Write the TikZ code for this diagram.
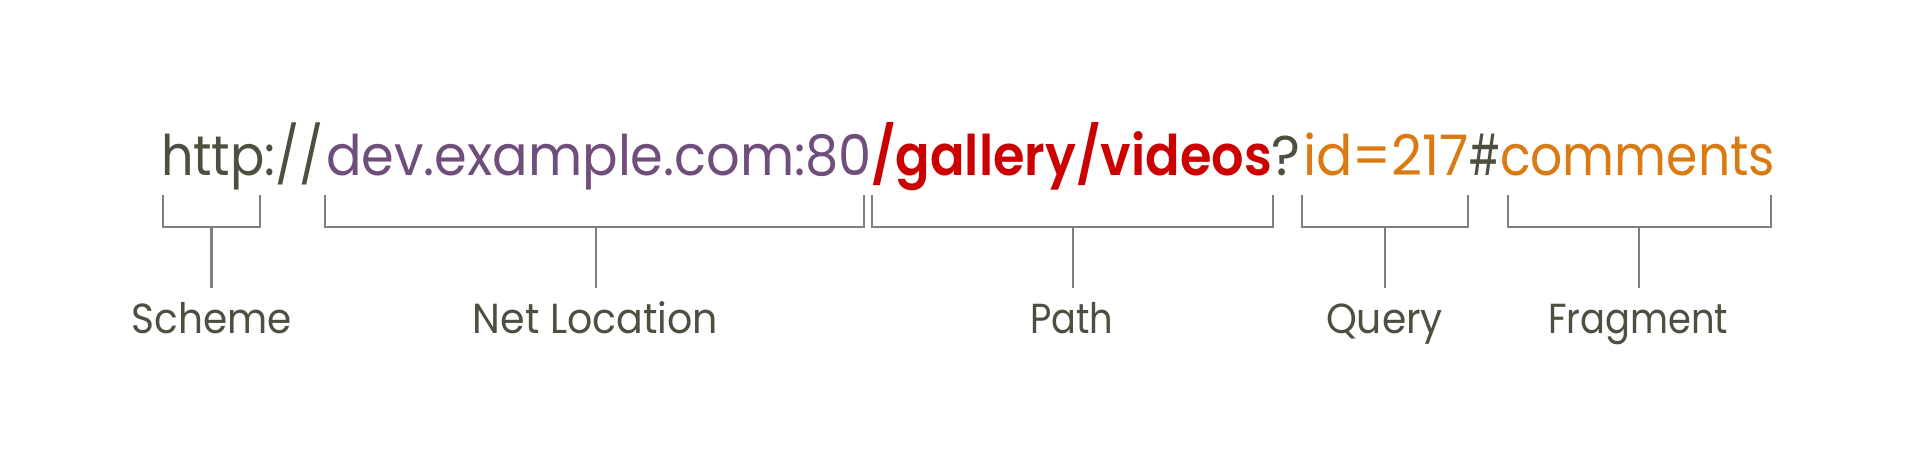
\documentclass[tikz,border=0pt]{standalone}
\usepackage{fontspec}
\usepackage{graphicx}
\setmainfont{Poppins}
\newfontfamily\semib{Poppins SemiBold}
\definecolor{olive}{HTML}{4B5141}
\definecolor{purp}{HTML}{6F4E7C}
\definecolor{urlred}{HTML}{CC0000}
\definecolor{orng}{HTML}{D97B12}
\definecolor{brgrey}{HTML}{808080}
\newcommand{\fitw}[2]{\resizebox{#1pt}{\height}{#2}}
\tikzset{
  seg/.style={inner sep=0pt, outer sep=0pt, anchor=base west, font=\fontsize{56}{60}\selectfont},
  lbl/.style={inner sep=0pt, outer sep=0pt, anchor=base, text=olive, font=\fontsize{42}{44}\selectfont},
  brk/.style={draw=brgrey, line width=2.7pt, line cap=rect, line join=miter},
}
\begin{document}
\begin{tikzpicture}[x=1pt,y=-1pt]
\useasboundingbox (0,0) rectangle (1907,475);
% URL segments
\node[seg, text=olive]  (s1) at (161,175) {\fitw{163}{http://}};
\node[seg, text=purp]   (s2) at (326,175) {\fitw{546}{dev.example.com:80}};
\node[seg, text=urlred] (s3) at (871,175) {\fitw{401}{\semib /gallery/videos}};
\node[seg, text=olive]  (s4) at (1271,175) {\fitw{29}{?}};
\node[seg, text=orng]   (s5) at (1303,175) {\fitw{166}{id=217}};
\node[seg, text=olive]  (s6) at (1469,175) {\fitw{31}{\#}};
\node[seg, text=orng]   (s7) at (1500,175) {\fitw{275}{comments}};
% labels
\node[lbl] (lscheme) at (211.5,333) {\fitw{160}{Scheme}};
\node[lbl] (lnet)    at (595.5,333) {\fitw{245}{Net Location}};
\node[lbl] (lpath)   at (1072,333)  {\fitw{83}{Path}};
\node[lbl] (lquery)  at (1384.5,333){\fitw{117}{Query}};
\node[lbl] (lfrag)   at (1638,333)  {\fitw{180}{Fragment}};
% bracket coordinates
\coordinate (aL) at (163,196);  \coordinate (aR) at (260,196);
\coordinate (bL) at (325,196);  \coordinate (bR) at (864,196);
\coordinate (cL) at (872,196);  \coordinate (cR) at (1273,196);
\coordinate (dL) at (1302,196); \coordinate (dR) at (1468,196);
\coordinate (eL) at (1508,196); \coordinate (eR) at (1771,196);
\coordinate (aT) at (211.5,227); \coordinate (aB) at (211.5,288);
\coordinate (bT) at (596,227);   \coordinate (bB) at (596,288);
\coordinate (cT) at (1073,227);  \coordinate (cB) at (1073,288);
\coordinate (dT) at (1385,227);  \coordinate (dB) at (1385,288);
\coordinate (eT) at (1639,227);  \coordinate (eB) at (1639,288);
% brackets
\foreach \k in {a,b,c,d,e}{
  \draw[brk] (\k L) -- (\k L |- \k T) -- (\k R |- \k T) -- (\k R);
  \draw[brk, line cap=butt] (\k T) -- (\k B);
}
\end{tikzpicture}
\end{document}
